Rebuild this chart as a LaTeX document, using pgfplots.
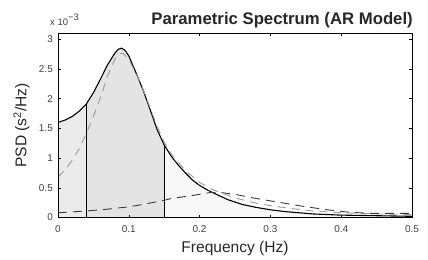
\documentclass[border=0pt]{standalone}
\usepackage{pgfplots}
\pgfplotsset{compat=1.18}
\usepackage{pgfplotstable}
\usepackage{fontspec}
\setmainfont{Liberation Sans}
\definecolor{fillA}{HTML}{EBEBEB}
\definecolor{fillB}{HTML}{E4E4E4}
\definecolor{fillC}{HTML}{F8F8F8}
\definecolor{dashgray}{HTML}{9A9A9A}
\definecolor{dashdark}{HTML}{3A3A3A}

% total AR spectrum (units of 1e-3 s^2/Hz)
\pgfplotstableread{
f psd
0.000 1.60
0.010 1.64
0.020 1.70
0.030 1.79
0.040 1.91
0.050 2.10
0.060 2.33
0.070 2.57
0.080 2.76
0.085 2.83
0.090 2.85
0.095 2.81
0.100 2.72
0.110 2.44
0.120 2.15
0.130 1.82
0.140 1.48
0.150 1.22
0.160 1.03
0.170 0.88
0.180 0.75
0.190 0.63
0.200 0.54
0.210 0.47
0.220 0.41
0.240 0.30
0.260 0.22
0.280 0.17
0.300 0.13
0.320 0.10
0.340 0.08
0.360 0.06
0.380 0.05
0.400 0.04
0.450 0.03
0.500 0.02
}\total

% first component (gray dashed)
\pgfplotstableread{
f psd
0.000 0.68
0.010 0.80
0.020 0.96
0.030 1.16
0.040 1.41
0.050 1.70
0.060 2.02
0.070 2.38
0.080 2.66
0.086 2.76
0.092 2.76
0.100 2.66
0.110 2.43
0.120 2.16
0.130 1.85
0.140 1.53
0.150 1.27
0.160 1.07
0.180 0.79
0.200 0.59
0.220 0.46
0.250 0.33
0.280 0.24
0.300 0.20
0.330 0.15
0.360 0.11
0.400 0.08
0.450 0.06
0.500 0.05
}\compA

% second component (dark dashed)
\pgfplotstableread{
f psd
0.000 0.08
0.040 0.11
0.070 0.14
0.100 0.18
0.120 0.22
0.150 0.29
0.160 0.32
0.190 0.37
0.215 0.42
0.230 0.42
0.250 0.39
0.275 0.33
0.300 0.28
0.320 0.24
0.345 0.19
0.380 0.13
0.410 0.09
0.440 0.07
0.500 0.07
}\compB

\begin{document}
\begin{tikzpicture}
\begin{axis}[
  name=ax,
  scale only axis,
  width=354bp, height=184.2bp,
  xmin=0, xmax=0.5, ymin=0, ymax=3.1,
  xtick={0,0.1,0.2,0.3,0.4,0.5},
  ytick={0,0.5,1,1.5,2,2.5,3},
  tick align=inside,
  major tick length=3bp,
  axis line style={black, line width=0.75pt},
  tick style={black, line width=0.5pt},
  /pgf/number format/assume math mode=true,
  ticklabel style={font=\fontsize{10}{12}\selectfont, text=black!75},
  xticklabel style={inner sep=0pt, anchor=north, yshift=-8bp},
  yticklabel style={inner sep=0pt, anchor=east, xshift=-5bp},
  xlabel={Frequency (Hz)},
  ylabel={PSD (s\textsuperscript{2}/Hz)},
  label style={font=\fontsize{15.6}{18}\selectfont, text=black!85},
  xlabel style={at={(axis description cs:0.5,-0.1656)}, anchor=center},
  ylabel style={at={(axis description cs:-0.1031,0.5)}, anchor=center},
  clip=true,
  axis on top,
]
\addplot[fill=fillA, draw=none, restrict x to domain=0:0.04] table[x=f,y=psd]{\total} \closedcycle;
\addplot[fill=fillB, draw=none, restrict x to domain=0.04:0.15] table[x=f,y=psd]{\total} \closedcycle;
\addplot[fill=fillC, draw=none, restrict x to domain=0.15:0.5] table[x=f,y=psd]{\total} \closedcycle;
\addplot[black, line width=0.8pt] coordinates {(0.04,0) (0.04,1.91)};
\addplot[black, line width=0.8pt] coordinates {(0.15,0) (0.15,1.22)};
\addplot[black, line width=1.1pt] table[x=f,y=psd]{\total};
\addplot[dashgray, line width=0.9pt, dash pattern=on 8bp off 6bp] table[x=f,y=psd]{\compA};
\addplot[dashdark, line width=0.9pt, dash pattern=on 9bp off 6bp] table[x=f,y=psd]{\compB};
\end{axis}
\node[anchor=base east, inner sep=0pt, font=\bfseries\fontsize{16.8}{19}\selectfont, text=black!85]
  at ([xshift=1bp,yshift=8.3bp]ax.north east) {Parametric Spectrum (AR Model)};
\node[anchor=base west, inner sep=0pt, font=\fontsize{9.5}{11}\selectfont, text=black!75]
  at ([xshift=-8bp,yshift=8bp]ax.north west) {x 10\raisebox{5bp}{\char"2212 3}};
\pgfresetboundingbox
\path[use as bounding box] ([shift={(-58bp,-42.5bp)}]ax.south west) rectangle ([shift={(370bp,217.5bp)}]ax.south west);
\end{tikzpicture}
\end{document}
